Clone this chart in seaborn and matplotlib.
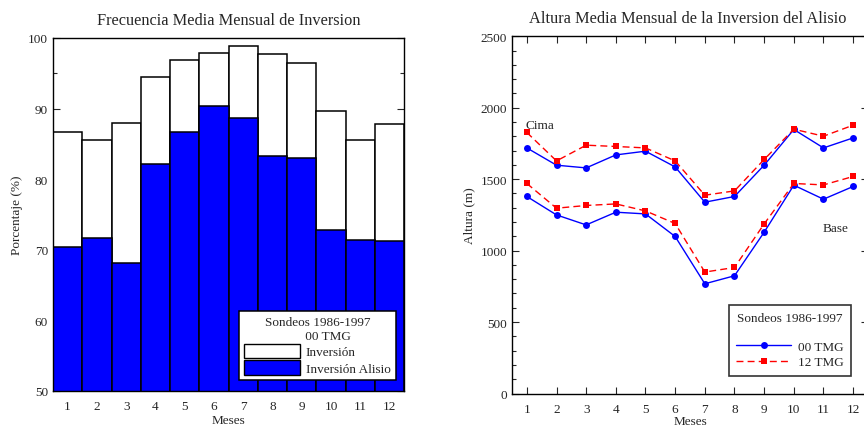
import numpy as np
import pandas as pd
import matplotlib
matplotlib.use("Agg")
import matplotlib.pyplot as plt
from matplotlib.patches import Patch
from matplotlib.lines import Line2D
from matplotlib.ticker import MultipleLocator
import seaborn as sns

# Monthly inversion frequency (%), soundings 1986-1997 at 00 TMG
meses = list(range(1, 13))
frec_inversion = [86.7, 85.6, 88.0, 94.5, 96.9, 97.9, 98.9, 97.7, 96.5, 89.6, 85.5, 87.8]
frec_alisio = [70.3, 71.6, 68.1, 82.2, 86.7, 90.3, 88.6, 83.2, 83.0, 72.8, 71.3, 71.2]

# Monthly mean height (m) of the trade-wind inversion top (cima) and base
cima_00 = [1719, 1598, 1579, 1670, 1696, 1586, 1339, 1379, 1598, 1848, 1719, 1789]
cima_12 = [1827, 1628, 1738, 1729, 1719, 1628, 1388, 1418, 1638, 1850, 1801, 1878]
base_00 = [1379, 1250, 1180, 1269, 1257, 1099, 768, 824, 1129, 1458, 1360, 1449]
base_12 = [1470, 1297, 1316, 1327, 1278, 1190, 850, 882, 1187, 1470, 1460, 1519]

sns.set_theme(style="ticks")
plt.rcParams["font.family"] = ["Liberation Serif", "DejaVu Serif"]
plt.rcParams["mathtext.fontset"] = "stix"

fig = plt.figure(figsize=(8.64, 4.27), dpi=100)
ax1 = fig.add_axes([0.0613, 0.0827, 0.4066, 0.826])
ax2 = fig.add_axes([0.5926, 0.0761, 0.412, 0.8365])

FS_TICK = 9.5
FS_TITLE = 11.8

# ---- Left panel: frequency bars ----
df_frec = pd.DataFrame({"mes": meses, "inv": frec_inversion, "alisio": frec_alisio})
sns.barplot(data=df_frec, x="mes", y="inv", color="white", edgecolor="black",
            linewidth=1.1, width=1.0, saturation=1, ax=ax1)
sns.barplot(data=df_frec, x="mes", y="alisio", color="#0000ff", edgecolor="black",
            linewidth=1.1, width=1.0, saturation=1, ax=ax1)
ax1.set_xlim(-0.5, 11.5)
ax1.set_ylim(50, 100)
ax1.yaxis.set_major_locator(MultipleLocator(10))
ax1.yaxis.set_minor_locator(MultipleLocator(5))
ax1.tick_params(axis="y", which="both", direction="in", right=True, left=True,
                labelsize=FS_TICK, width=0.8)
ax1.tick_params(axis="y", which="major", length=5)
ax1.tick_params(axis="y", which="minor", length=3)
ax1.tick_params(axis="x", length=0, labelsize=FS_TICK, pad=7)
ax1.set_xlabel("Meses", fontsize=FS_TICK, labelpad=1)
ax1.set_ylabel("Porcentaje (%)", fontsize=FS_TICK, labelpad=4)
ax1.set_title("Frecuencia Media Mensual de Inversion", fontsize=FS_TITLE, pad=10)
for s in ax1.spines.values():
    s.set_linewidth(1.0)
    s.set_color("black")

h1 = [Patch(facecolor="white", edgecolor="black", linewidth=1.0, label="Inversión"),
      Patch(facecolor="#0000ff", edgecolor="black", linewidth=1.0, label="Inversión Alisio")]
leg1 = ax1.legend(handles=h1, title="Sondeos 1986-1997\n      00 TMG", loc="lower right",
                  bbox_to_anchor=(0.976, 0.03), borderaxespad=0, fontsize=FS_TICK,
                  title_fontsize=FS_TICK, handlelength=4.2, handleheight=1.35,
                  handletextpad=0.45, labelspacing=0.12, borderpad=0.4,
                  fancybox=False, framealpha=1, edgecolor="black")
leg1.get_title().set_multialignment("center")
leg1.get_frame().set_linewidth(1.1)

# ---- Right panel: inversion heights ----
rows = []
for nivel, serie00, serie12 in (("Cima", cima_00, cima_12), ("Base", base_00, base_12)):
    for m, v in zip(meses, serie00):
        rows.append({"mes": m, "altura": v, "hora": "00 TMG", "nivel": nivel})
    for m, v in zip(meses, serie12):
        rows.append({"mes": m, "altura": v, "hora": "12 TMG", "nivel": nivel})
df_alt = pd.DataFrame(rows)

palette = {"00 TMG": "#0000ff", "12 TMG": "#ff0000"}
sns.lineplot(data=df_alt, x="mes", y="altura", hue="hora", style="hora",
             units="nivel", estimator=None, palette=palette,
             markers={"00 TMG": "o", "12 TMG": "s"},
             dashes={"00 TMG": "", "12 TMG": (5, 3)},
             markersize=5, markeredgewidth=0, linewidth=1.0, legend=False, ax=ax2)
ax2.set_xlim(0.5, 12.5)
ax2.set_ylim(0, 2500)
ax2.set_xticks(meses)
ax2.yaxis.set_major_locator(MultipleLocator(500))
ax2.yaxis.set_minor_locator(MultipleLocator(100))
ax2.tick_params(axis="both", which="both", direction="in", top=True, right=True,
                labelsize=FS_TICK, width=0.8)
ax2.tick_params(axis="both", which="major", length=5)
ax2.tick_params(axis="y", which="minor", length=3)
ax2.tick_params(axis="x", pad=7)
ax2.set_xlabel("Meses", fontsize=FS_TICK, labelpad=-0.5)
ax2.set_ylabel("Altura (m)", fontsize=FS_TICK, labelpad=4)
ax2.set_title("Altura Media Mensual de la Inversion del Alisio", fontsize=FS_TITLE,
              pad=10, x=0.494)
for s in ax2.spines.values():
    s.set_linewidth(1.0)
    s.set_color("black")

ax2.text(0.97, 1880, "Cima", fontsize=FS_TICK, ha="left", va="center")
ax2.text(10.97, 1157, "Base", fontsize=FS_TICK, ha="left", va="center")

h2 = [Line2D([], [], color="#0000ff", marker="o", markersize=5, markeredgewidth=0,
             linewidth=1.0, label="00 TMG"),
      Line2D([], [], color="#ff0000", marker="s", markersize=5, markeredgewidth=0,
             linewidth=1.0, dashes=(5, 3), label="12 TMG")]
leg2 = ax2.legend(handles=h2, title="Sondeos 1986-1997\n", loc="lower right",
                  bbox_to_anchor=(0.952, 0.05), borderaxespad=0, fontsize=FS_TICK,
                  title_fontsize=FS_TICK, handlelength=4.2, handletextpad=0.5,
                  labelspacing=0.25, borderpad=0.55, fancybox=False, framealpha=1,
                  edgecolor="#333333")
leg2.get_title().set_linespacing(1.15)
leg2.get_frame().set_linewidth(1.2)

fig.savefig("out.png", dpi=100)
